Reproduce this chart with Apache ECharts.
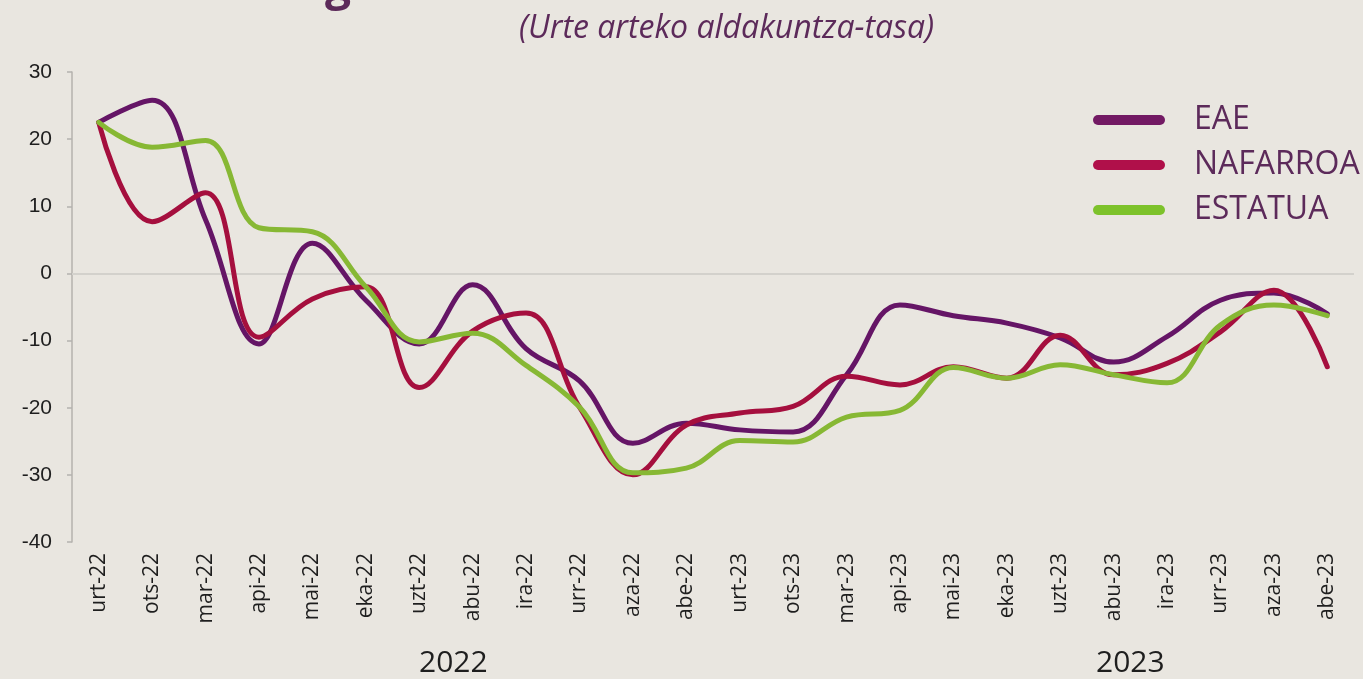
<!DOCTYPE html>
<html>
<head>
<meta charset="utf-8">
<script src="https://cdn.jsdelivr.net/npm/echarts@6/dist/echarts.min.js"></script>
<style>
  html, body { margin: 0; padding: 0; background: #e9e6e0; }
  #main { width: 1363px; height: 679px; }
</style>
</head>
<body>
<div id="main"></div>
<script>
// data
var months = ['urt-22', 'ots-22', 'mar-22', 'api-22', 'mai-22', 'eka-22', 'uzt-22', 'abu-22', 'ira-22', 'urr-22', 'aza-22', 'abe-22',
              'urt-23', 'ots-23', 'mar-23', 'api-23', 'mai-23', 'eka-23', 'uzt-23', 'abu-23', 'ira-23', 'urr-23', 'aza-23', 'abe-23'];
var eae = [22.5, 25.8, 8, -10.5, 4.5, -4, -10.5, -1.7, -11.2, -16, -25.3, -22.3,
           -23.3, -23.6, -15.1, -4.7, -6.3, -7.4, -9.6, -13.2, -9.4, -4, -2.9, -6];
var nafarroa = [22.5, 7.7, 12, -9.5, -3.8, -2, -17, -8.6, -5.9, -19.9, -30, -22.6,
                -20.8, -19.8, -15.3, -16.6, -13.9, -15.6, -9.2, -15.1, -13.4, -8.7, -2.5, -13.9];
var estatua = [22.5, 18.8, 19.8, 6.8, 6.2, -2, -10.2, -8.9, -13.7, -19.9, -29.7, -29,
               -24.9, -25.1, -21.4, -20.4, -14, -15.6, -13.6, -15.1, -16.3, -7.7, -4.7, -6.3];
var seriesNames = ['EAE', 'NAFARROA', 'ESTATUA'];
var years = ['2022', '2023'];
var subtitle = '(Urte arteko aldakuntza-tasa)';

var colors = ['#651566', '#a50f3e', '#87b834'];
var legendColors = ['#731a64', '#b0104a', '#7dc22b'];
var legendIcon = 'path://M5,0 H67 A5,5 0 0 1 67,10 H5 A5,5 0 0 1 5,0 Z';

var myChart = echarts.init(document.getElementById('main'));

function lineSeries(name, data, color, extra) {
    var s = {
        name: name,
        type: 'line',
        data: data,
        smooth: 0.4,
        showSymbol: false,
        symbol: 'none',
        itemStyle: { color: color },
        lineStyle: { color: color, width: 5, cap: 'round', join: 'round' },
        z: 3
    };
    return Object.assign(s, extra || {});
}

var option = {
    backgroundColor: '#e9e6e0',
    animation: false,
    grid: {
        left: 72,
        right: 9,
        top: 72,
        bottom: 137
    },
    legend: {
        orient: 'vertical',
        left: 1088,
        top: 99,
        itemWidth: 72,
        itemHeight: 10,
        itemGap: 13,
        icon: legendIcon,
        textStyle: {
            fontFamily: 'Open Sans',
            fontSize: 32,
            color: '#5c2a5a',
            padding: [0, 0, 0, 24]
        },
        data: seriesNames.map(function (n, i) {
            return { name: n, itemStyle: { color: legendColors[i] } };
        })
    },
    graphic: [
        {
            type: 'text',
            left: 519,
            top: 13,
            style: {
                text: subtitle,
                fontFamily: 'Open Sans',
                fontStyle: 'italic',
                fontSize: 32,
                fill: '#5c2a5a'
            }
        },
        {
            type: 'text',
            left: 325,
            top: -36,
            style: {
                text: 'g',
                fontFamily: 'Open Sans',
                fontWeight: 'bold',
                fontSize: 46,
                fill: '#5c2a5a'
            }
        },
        {
            type: 'text',
            left: 419,
            top: 648,
            style: { text: years[0], fontFamily: 'Open Sans', fontSize: 30, fill: '#1e1e1e' }
        },
        {
            type: 'text',
            left: 1096,
            top: 648,
            style: { text: years[1], fontFamily: 'Open Sans', fontSize: 30, fill: '#1e1e1e' }
        }
    ],
    xAxis: {
        type: 'category',
        boundaryGap: true,
        data: months,
        axisLine: { show: false },
        axisTick: { show: false },
        axisLabel: {
            rotate: 90,
            margin: 11,
            interval: 0,
            fontFamily: 'Open Sans',
            fontSize: 21,
            color: '#1e1e1e'
        },
        splitLine: { show: false }
    },
    yAxis: {
        type: 'value',
        min: -40,
        max: 30,
        interval: 10,
        axisLine: { show: true, lineStyle: { color: '#b4b2ae', width: 1.5 } },
        axisTick: { show: true, length: 5, lineStyle: { color: '#b4b2ae', width: 1.5 } },
        axisLabel: {
            margin: 20,
            fontFamily: 'Liberation Sans',
            fontSize: 21,
            color: '#1e1e1e'
        },
        splitLine: { show: false }
    },
    series: [
        lineSeries(seriesNames[0], eae, colors[0], {
            markLine: {
                silent: true,
                symbol: 'none',
                label: { show: false },
                lineStyle: { color: '#d3d1cc', width: 2, type: 'solid' },
                data: [{ yAxis: 0 }],
                z: 1
            }
        }),
        lineSeries(seriesNames[1], nafarroa, colors[1]),
        lineSeries(seriesNames[2], estatua, colors[2])
    ]
};

myChart.setOption(option);
</script>
</body>
</html>
